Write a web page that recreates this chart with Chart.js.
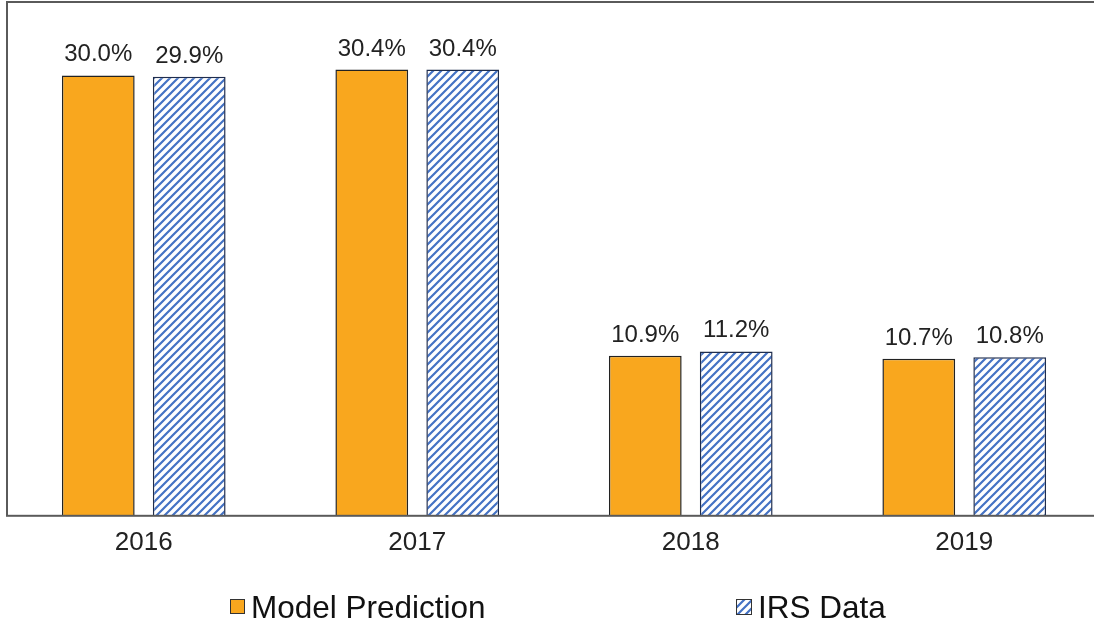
<!DOCTYPE html>
<html>
<head>
<meta charset="utf-8">
<script src="https://cdn.jsdelivr.net/npm/chart.js@4"></script>
<style>
  html, body { margin:0; padding:0; background:#fff; overflow:hidden; }
  #wrap { position:relative; width:1102px; height:622px; }
</style>
</head>
<body>
<div id="wrap"><canvas id="mainChart" width="1102" height="622"></canvas></div>
<script>
const years = ['2016', '2017', '2018', '2019'];
const modelPrediction = [30.0, 30.4, 10.9, 10.7];
const irsData = [29.9, 30.4, 11.2, 10.8];
const seriesNames = ['Model Prediction', 'IRS Data'];

const FONT = '"Liberation Sans", Arial, sans-serif';
const orange = '#F9A71E';
const stripeBlue = '#4472C4';

function hatch() {
  const c = document.createElement('canvas');
  c.width = 8; c.height = 8;
  const g = c.getContext('2d');
  g.fillStyle = '#fff';
  g.fillRect(0, 0, 8, 8);
  g.strokeStyle = stripeBlue;
  g.lineWidth = 2.2;
  g.beginPath();
  g.moveTo(-2, 10); g.lineTo(10, -2);
  g.moveTo(-6, 6); g.lineTo(6, -6);
  g.moveTo(2, 14); g.lineTo(14, 2);
  g.stroke();
  return g.createPattern(c, 'repeat');
}
const hatchFill = hatch();

// frame round the plot: left, top, bottom
const frame = {
  id: 'frame',
  afterDatasetsDraw(chart) {
    const {ctx, chartArea: a} = chart;
    ctx.save();
    ctx.strokeStyle = '#5a5a5a';
    ctx.lineWidth = 2;
    ctx.strokeRect(a.left, a.top, a.right - a.left, a.bottom - a.top);
    ctx.restore();
  }
};

// value labels above bars
const valueLabels = {
  id: 'valueLabels',
  afterDatasetsDraw(chart) {
    const ctx = chart.ctx;
    ctx.save();
    ctx.font = '24px ' + FONT;
    ctx.fillStyle = '#222';
    ctx.textAlign = 'center';
    ctx.textBaseline = 'alphabetic';
    chart.data.datasets.forEach((ds, di) => {
      chart.getDatasetMeta(di).data.forEach((bar, i) => {
        ctx.fillText(ds.data[i].toFixed(1) + '%', bar.x, bar.y - 14);
      });
    });
    ctx.restore();
  }
};

// legend at the bottom, items spread apart
const bottomLegend = {
  id: 'bottomLegend',
  afterDraw(chart) {
    const ctx = chart.ctx;
    const items = [{x: 230, box: 15}, {x: 736, box: 16}];
    ctx.save();
    ctx.font = '31.5px ' + FONT;
    ctx.textBaseline = 'alphabetic';
    chart.data.datasets.forEach((ds, i) => {
      const it = items[i];
      const top = 599;
      ctx.fillStyle = ds.backgroundColor;
      ctx.fillRect(it.x, top, it.box, it.box);
      ctx.strokeStyle = '#333';
      ctx.lineWidth = 1;
      ctx.strokeRect(it.x + 0.5, top + 0.5, it.box - 1, it.box - 1);
      ctx.fillStyle = '#111';
      ctx.fillText(ds.label, it.x + it.box + 6, 618);
    });
    ctx.restore();
  }
};

new Chart(document.getElementById('mainChart').getContext('2d'), {
  type: 'bar',
  data: {
    labels: years,
    datasets: [
      { label: seriesNames[0], data: modelPrediction, backgroundColor: orange,
        borderColor: '#222', borderWidth: 1.5 },
      { label: seriesNames[1], data: irsData, backgroundColor: hatchFill,
        borderColor: '#1f2d4d', borderWidth: 1.5 }
    ]
  },
  options: {
    responsive: false,
    animation: false,
    categoryPercentage: 0.665,
    barPercentage: 0.8,
    layout: { padding: { left: 7, top: 2, right: 1, bottom: 53 } },
    plugins: { legend: { display: false }, tooltip: { enabled: false } },
    scales: {
      x: {
        grid: { display: false, drawTicks: false },
        border: { display: false },
        ticks: { color: '#222', padding: 11, font: { family: FONT, size: 26 } }
      },
      y: { display: false, min: 0, max: 35 }
    }
  },
  plugins: [frame, valueLabels, bottomLegend]
});
</script>
</body>
</html>
